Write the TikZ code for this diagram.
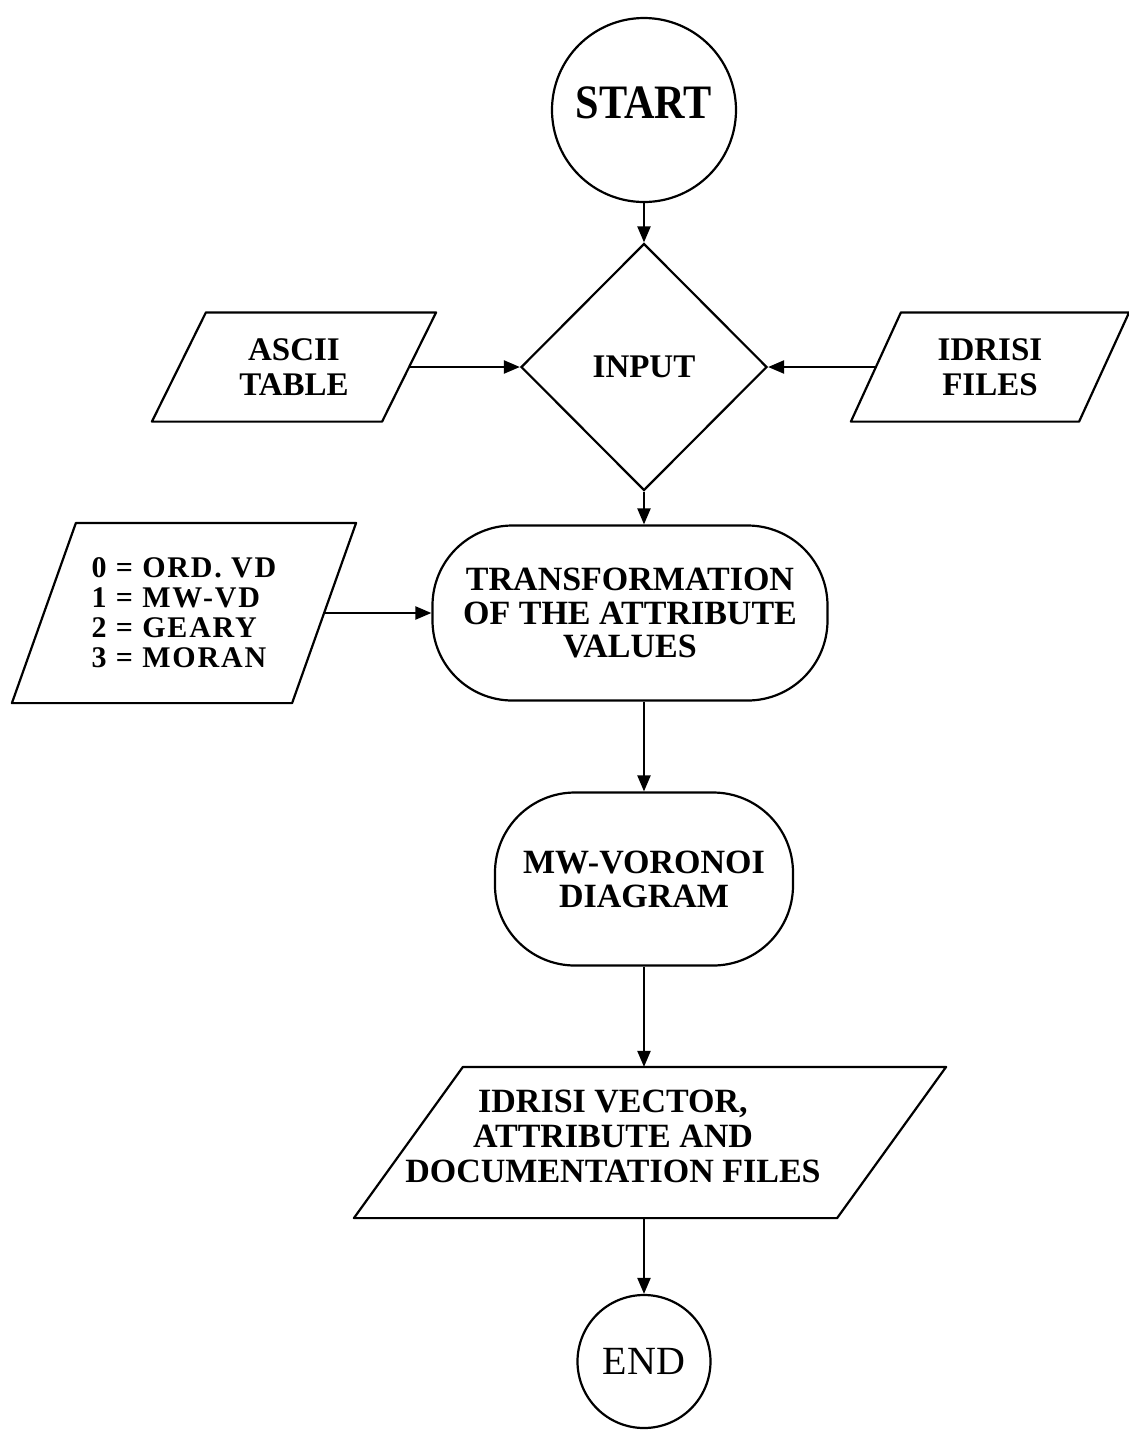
\documentclass[tikz,border=0pt]{standalone}
\usepackage{fontspec}
\setmainfont{Liberation Serif}
\usetikzlibrary{shapes.geometric,arrows.meta}
\begin{document}
\begin{tikzpicture}[x=0.5pt,y=-0.5pt,
  every node/.style={line width=1.1pt, inner sep=0pt},
  lbl/.style={font=\fontsize{16.5}{17.5}\selectfont\bfseries, align=center},
  parabody/.style={rectangle, inner sep=0pt},
  outline/.style={line width=1.1pt, line join=round},
  roundbox/.style={draw, rectangle, rounded corners=40pt},
  arr/.style={line width=1.1pt, -{Triangle[length=8pt,width=6.5pt]}}
]
\useasboundingbox (0,0) rectangle (1129,1432);

% START
\node[draw, circle, minimum size=92pt] (start) at (644,110) {};
\node[font=\fontsize{24}{26}\selectfont\bfseries] (starttext) at (644,103) {\scalebox{0.88}[1]{START}};

% INPUT
\node[draw, diamond, minimum width=123pt, minimum height=123.5pt, lbl] (input) at (644,367) {INPUT};

% ASCII TABLE
\node[parabody, minimum width=141pt, minimum height=53.5pt, lbl] (ascii) at (294,367) {ASCII\\TABLE};
\draw[outline] ([xshift=27pt]ascii.north west) -- (ascii.north east)
  -- ([xshift=-27pt]ascii.south east) -- (ascii.south west) -- cycle;
\coordinate (asciiR) at ([xshift=-13.5pt]ascii.east);

% IDRISI FILES
\node[parabody, minimum width=138pt, minimum height=53.5pt, lbl] (idrisi) at (990,367) {IDRISI\\FILES};
\draw[outline] ([xshift=25pt]idrisi.north west) -- (idrisi.north east)
  -- ([xshift=-25pt]idrisi.south east) -- (idrisi.south west) -- cycle;
\coordinate (idrisiL) at ([xshift=12.5pt]idrisi.west);

% list
\node[parabody, minimum width=171pt, minimum height=89pt,
      font=\fontsize{15}{15}\selectfont\bfseries\addfontfeature{LetterSpace=6}, align=left] (list) at (184,613)
      {0 = ORD. VD\\1 = MW-VD\\2 = GEARY\\3 = MORAN};
\draw[outline] ([xshift=32pt]list.north west) -- (list.north east)
  -- ([xshift=-32pt]list.south east) -- (list.south west) -- cycle;
\coordinate (listR) at ([xshift=-16pt]list.east);

% TRANSFORMATION
\node[roundbox, minimum width=197.5pt, minimum height=87.5pt,
      font=\fontsize{17}{16.8}\selectfont\bfseries, align=center] (trans) at (630,613)
      {TRANSFORMATION\\OF THE ATTRIBUTE\\VALUES};

% MW-VORONOI
\node[roundbox, minimum width=149pt, minimum height=86.5pt,
      font=\fontsize{17}{17}\selectfont\bfseries, align=center] (mw) at (644,879)
      {MW-VORONOI\\DIAGRAM};

% OUTPUT FILES
\node[parabody, minimum width=295pt, minimum height=74.5pt] (out) at (650,1142.5) {};
\draw[outline] ([xshift=54.5pt]out.north west) -- (out.north east)
  -- ([xshift=-54.5pt]out.south east) -- (out.south west) -- cycle;
\node[font=\fontsize{17}{17.5}\selectfont\bfseries, align=center] (outtext) at (613,1136)
      {IDRISI VECTOR,\\ATTRIBUTE AND\\DOCUMENTATION FILES};

% END
\node[draw, circle, minimum size=66.5pt, font=\fontsize{20}{22}\selectfont] (end) at (644,1361.5) {END};

\draw[arr] (start) -- (input);
\draw[arr] (asciiR) -- (input.west);
\draw[arr] (idrisiL) -- (input.east);
\draw[arr] (input.south) -- (input.south |- trans.north);
\draw[arr] (listR) -- (listR -| trans.west);
\draw[arr] (trans.south -| mw.north) -- (mw.north);
\draw[arr] (mw.south) -- (mw.south |- out.north);
\draw[arr] (out.south -| end.north) -- (end.north);
\end{tikzpicture}
\end{document}
